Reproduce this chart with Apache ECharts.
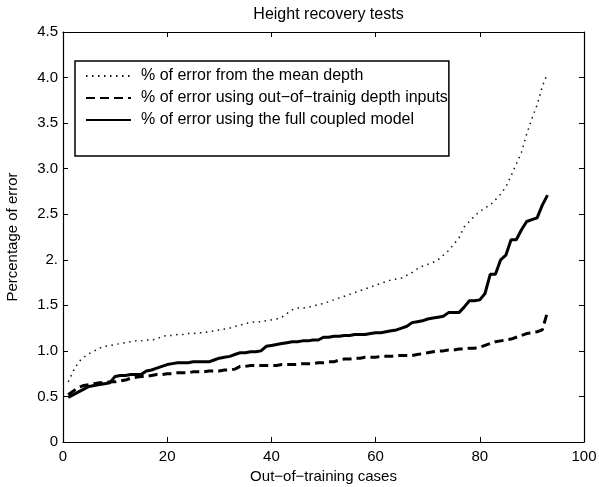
<!DOCTYPE html>
<html>
<head>
<meta charset="utf-8">
<script src="https://cdn.jsdelivr.net/npm/echarts@6/dist/echarts.min.js"></script>
<style>
html,body{margin:0;padding:0;background:#fff;}
#chart{width:599px;height:487px;}
</style>
</head>
<body>
<div id="chart"></div>
<script>
var titleText = 'Height recovery tests';
var xName = 'Out\u2212of\u2212training cases';
var yName = 'Percentage of error';
var seriesNames = [
  '% of error from the mean depth',
  '% of error using out\u2212of\u2212trainig depth inputs',
  '% of error using the full coupled model'
];
var yTickValues = [0, 0.5, 1, 1.5, 2, 2.5, 3, 3.5, 4, 4.5];
var yTickLabels = ['0', '0.5', '1.0', '1.5', '2.', '2.5', '3.0', '3.5', '4.0', '4.5'];
var xTickLabels = ['0', '20', '40', '60', '80', '100'];

var meanDepth = [0.66,0.78,0.88,0.93,0.97,1.00,1.03,1.05,1.06,1.07,1.08,1.09,1.10,1.11,1.11,1.12,1.12,1.13,1.16,1.17,
  1.17,1.18,1.18,1.19,1.19,1.20,1.20,1.21,1.22,1.23,1.24,1.25,1.27,1.28,1.30,1.31,1.32,1.32,1.33,1.34,
  1.35,1.37,1.41,1.45,1.47,1.47,1.48,1.49,1.51,1.52,1.54,1.56,1.58,1.60,1.62,1.64,1.66,1.68,1.70,1.72,
  1.74,1.76,1.78,1.79,1.80,1.83,1.86,1.90,1.93,1.95,1.97,2.00,2.05,2.10,2.17,2.24,2.36,2.42,2.48,2.53,
  2.57,2.60,2.66,2.72,2.80,2.92,3.05,3.18,3.38,3.55,3.70,3.90,4.05];
var outOfTraining = [0.52,0.56,0.60,0.62,0.63,0.64,0.65,0.65,0.66,0.66,0.67,0.68,0.70,0.71,0.72,0.72,0.73,0.74,0.74,0.75,
  0.75,0.76,0.76,0.76,0.77,0.77,0.77,0.78,0.78,0.78,0.79,0.79,0.80,0.83,0.83,0.84,0.84,0.84,0.84,0.84,
  0.84,0.85,0.85,0.85,0.85,0.86,0.86,0.86,0.87,0.87,0.88,0.88,0.90,0.91,0.91,0.92,0.92,0.93,0.93,0.93,
  0.94,0.94,0.94,0.95,0.95,0.95,0.95,0.96,0.97,0.98,0.99,1.00,1.00,1.01,1.01,1.02,1.02,1.03,1.03,1.04,
  1.06,1.08,1.10,1.11,1.12,1.13,1.15,1.17,1.19,1.20,1.21,1.23,1.43];
var fullCoupled = [0.49,0.52,0.55,0.58,0.61,0.62,0.63,0.64,0.65,0.72,0.73,0.73,0.74,0.74,0.74,0.78,0.79,0.81,0.83,0.85,
  0.86,0.87,0.87,0.87,0.88,0.88,0.88,0.88,0.90,0.92,0.93,0.94,0.96,0.98,0.98,0.99,0.99,1.00,1.05,1.06,
  1.07,1.08,1.09,1.10,1.10,1.11,1.11,1.12,1.12,1.15,1.15,1.16,1.16,1.17,1.17,1.18,1.18,1.18,1.19,1.20,
  1.20,1.21,1.22,1.23,1.25,1.27,1.31,1.32,1.33,1.35,1.36,1.37,1.38,1.42,1.42,1.42,1.48,1.55,1.55,1.56,
  1.63,1.84,1.84,2.00,2.05,2.22,2.22,2.33,2.42,2.44,2.46,2.60,2.71];

function toPairs(arr){ return arr.map(function(v,i){ return [i+1, v]; }); }

var FONT = 'Liberation Sans, Arial, Helvetica, sans-serif';
var chart = echarts.init(document.getElementById('chart'), null, {renderer:'canvas'});

function yFmt(v){
  for (var i=0;i<yTickValues.length;i++){ if (Math.abs(yTickValues[i]-v)<1e-9) return yTickLabels[i]; }
  return '';
}
function xFmt(v){ var idx = Math.round(v/20); return xTickLabels[idx] !== undefined ? xTickLabels[idx] : ''; }

var axisLineStyle = {color:'#000', width:1.2};
function tick(){ return {show:true, inside:true, length:5, lineStyle:{color:'#000', width:1}}; }
var option = {
  backgroundColor:'#fff',
  animation:false,
  title:{
    text:titleText, left:323.5, textAlign:'center', top:2,
    textStyle:{fontFamily:FONT, fontSize:16, fontWeight:'normal', color:'#000'}
  },
  legend:{
    left:75, top:61, orient:'vertical',
    data:seriesNames,
    itemWidth:45, itemHeight:14, itemGap:6,
    padding:[7,1,28,10],
    borderColor:'#000', borderWidth:1.5,
    backgroundColor:'#fff',
    itemStyle:{color:'transparent', borderWidth:0, opacity:0},
    textStyle:{fontFamily:FONT, fontSize:16, color:'#000', padding:[0,0,0,5]},
    selectedMode:false
  },
  grid:{left:63, right:15, top:32, bottom:45, containLabel:false, outerBoundsMode:'none'},
  xAxis:[{
    type:'value', min:0, max:100, interval:20, position:'bottom',
    name:xName, nameLocation:'middle', nameGap:24,
    nameTextStyle:{fontFamily:FONT, fontSize:15, color:'#000'},
    axisLine:{show:true, onZero:false, lineStyle:axisLineStyle},
    axisTick:tick(),
    axisLabel:{fontFamily:FONT, fontSize:15, color:'#000', margin:7, formatter:xFmt},
    splitLine:{show:false}
  },{
    type:'value', min:0, max:100, interval:20, position:'top',
    axisLine:{show:true, onZero:false, lineStyle:axisLineStyle},
    axisTick:tick(),
    axisLabel:{show:false}, splitLine:{show:false}
  }],
  yAxis:[{
    type:'value', min:0, max:4.5, interval:0.5, position:'left',
    name:yName, nameLocation:'middle', nameGap:43,
    nameTextStyle:{fontFamily:FONT, fontSize:15, color:'#000'},
    axisLine:{show:true, onZero:false, lineStyle:axisLineStyle},
    axisTick:tick(),
    axisLabel:{fontFamily:FONT, fontSize:15, color:'#000', margin:5, formatter:yFmt},
    splitLine:{show:false}
  },{
    type:'value', min:0, max:4.5, interval:0.5, position:'right',
    axisLine:{show:true, onZero:false, lineStyle:axisLineStyle},
    axisTick:tick(),
    axisLabel:{show:false}, splitLine:{show:false}
  }],
  series:[{
    name:seriesNames[0], type:'line', data:toPairs(meanDepth),
    showSymbol:false, symbol:'none',
    lineStyle:{color:'#111', width:1.5, type:[1.5,4.5]},
    itemStyle:{color:'#111'}
  },{
    name:seriesNames[1], type:'line', data:toPairs(outOfTraining),
    showSymbol:false, symbol:'none',
    lineStyle:{color:'#000', width:3, type:[9,5]},
    itemStyle:{color:'#000'}
  },{
    name:seriesNames[2], type:'line', data:toPairs(fullCoupled),
    showSymbol:false, symbol:'none',
    lineStyle:{color:'#000', width:3, type:'solid'},
    itemStyle:{color:'#000'}
  }]
};
chart.setOption(option);
</script>
</body>
</html>
